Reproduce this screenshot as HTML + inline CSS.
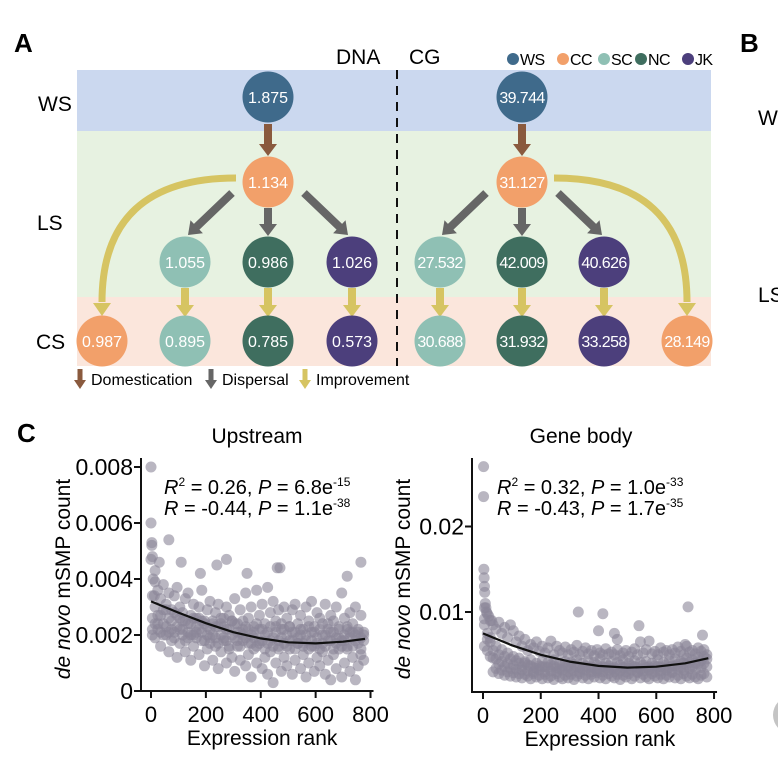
<!DOCTYPE html>
<html><head><meta charset="utf-8"><style>
html,body{margin:0;padding:0;background:#fff;}
svg{display:block;font-family:"Liberation Sans",Arial,sans-serif;}
</style></head><body>
<svg id="fig" width="778" height="777" viewBox="0 0 778 777">
<text x="14" y="52" font-size="26" font-weight="bold">A</text>
<text x="740" y="52" font-size="26" font-weight="bold">B</text>
<text x="758" y="125" font-size="21">WS</text>
<text x="758" y="302" font-size="21">LS</text>
<circle cx="792" cy="715" r="19" fill="#c4c4c4"/>
<rect x="77" y="70" width="634" height="61" fill="#cbd8ef"/>
<rect x="77" y="131" width="634" height="166" fill="#e7f2e1"/>
<rect x="77" y="297" width="634" height="69" fill="#fbe6dc"/>
<line x1="397" y1="70" x2="397" y2="366" stroke="#111" stroke-width="2" stroke-dasharray="9,7"/>
<text x="336" y="64" font-size="21">DNA</text>
<text x="409" y="64" font-size="21">CG</text>
<text x="38" y="111" font-size="21">WS</text>
<text x="37" y="230" font-size="21">LS</text>
<text x="36" y="349" font-size="21">CS</text>
<g id="legendTop" font-size="16" letter-spacing="-0.6"></g>
<g id="arrowsA"></g>
<g id="nodesA"></g>
<g id="legendBottom" font-size="16"></g>
<text x="17" y="442" font-size="26" font-weight="bold">C</text>
<g id="plotU"></g>
<g id="plotG"></g>
</svg>
<script>
const NS="http://www.w3.org/2000/svg";
function mk(tag,attrs,parent){const e=document.createElementNS(NS,tag);for(const k in attrs)e.setAttribute(k,attrs[k]);parent.appendChild(e);return e;}

const groupNames=["WS","CC","SC","NC","JK"];
const groupColors=["#3f6a8b","#f2a06a","#8fc0b4","#3f6e5f","#4c3f7c"];
const dnaValues=["1.875","1.134","1.055","0.986","1.026","0.987","0.895","0.785","0.573"];
const cgValues=["39.744","31.127","27.532","42.009","40.626","28.149","30.688","31.932","33.258"];

const legendTop=document.getElementById('legendTop');
const legX=[513,563,604,641,688];
groupNames.forEach((g,i)=>{
  const c=mk('circle',{cx:legX[i],cy:59,r:6,fill:groupColors[i]},legendTop);
  
  
  const t=mk('text',{x:legX[i]+7,y:65},legendTop);t.textContent=g;
  
  
});

const arrowsA=document.getElementById('arrowsA');
const BROWN="#8a5a3e",GRAY="#666666",YEL="#d6c462";
function arrow(x1,y1,x2,y2,col,name){
  const dx=x2-x1,dy=y2-y1,L=Math.hypot(dx,dy),ux=dx/L,uy=dy/L,px=-uy,py=ux;
  const hl=12,hw=9,sw=4;
  const bx=x2-ux*hl,by=y2-uy*hl;
  const pts=[[x1+px*sw,y1+py*sw],[bx+px*sw,by+py*sw],[bx+px*hw,by+py*hw],[x2,y2],[bx-px*hw,by-py*hw],[bx-px*sw,by-py*sw],[x1-px*sw,y1-py*sw]];
  const p=mk('polygon',{points:pts.map(q=>q.join(',')).join(' '),fill:col},arrowsA);
  
  
}
function curved(d,hx,hy,name){
  const p=mk('path',{d:d,fill:'none',stroke:YEL,'stroke-width':7},arrowsA);
  
  
  const h=mk('polygon',{points:`${hx-9},${hy-13} ${hx+9},${hy-13} ${hx},${hy}`,fill:YEL},arrowsA);
  
  
}
function side(cx,name){
  arrow(cx,124,cx,156,BROWN,name+'-domestication-arrow');
  arrow(cx-36,193,cx-80,235,GRAY,name+'-dispersal-left');
  arrow(cx,208,cx,236,GRAY,name+'-dispersal-mid');
  arrow(cx+36,193,cx+80,235,GRAY,name+'-dispersal-right');
}
side(268,'dna');side(522,'cg');
[185,268,352,440,522,604].forEach((x,i)=>arrow(x,288,x,317,YEL,'improvement-arrow-'+i));
curved('M236,178 Q102,178 102,302',102,316,'dna-cc-improvement-curve');
curved('M554,178 Q687,178 687,302',687,316,'cg-cc-improvement-curve');

const nodesA=document.getElementById('nodesA');
const nodeGroup=[0,1,2,3,4,1,2,3,4];
const dnaPos=[[268,97],[268,182],[185,262],[268,262],[352,262],[102,341],[185,341],[268,341],[352,341]];
const cgPos=[[522,97],[522,182],[440,262],[522,262],[604,262],[687,341],[440,341],[522,341],[604,341]];
function nodes(vals,pos,prefix){
  vals.forEach((v,i)=>{
    const c=mk('circle',{cx:pos[i][0],cy:pos[i][1],r:25.5,fill:groupColors[nodeGroup[i]]},nodesA);
    
    
    const t=mk('text',{x:pos[i][0],y:pos[i][1]+6,'text-anchor':'middle','font-size':v.length>5?16:16,'letter-spacing':v.length>5?-0.6:0,fill:'#fff'},nodesA);
    t.textContent=v;
    
    
  });
}
nodes(dnaValues,dnaPos,'dna');nodes(cgValues,cgPos,'cg');

const legendBottom=document.getElementById('legendBottom');
const arrowLegend=[["Domestication",BROWN,80],["Dispersal",GRAY,211],["Improvement",YEL,305]];
arrowLegend.forEach(([lab,col,x])=>{
  const p=mk('polygon',{points:`${x-2.5},369 ${x+2.5},369 ${x+2.5},380 ${x+6},380 ${x},389 ${x-6},380 ${x-2.5},380`,fill:col},legendBottom);
  
  
  const t=mk('text',{x:x+11,y:385},legendBottom);t.textContent=lab;
  
  
});

// ---- Panel C data (counts in units of 1e-3) ----
const rankGrid=[5,15,25,35,45,55,65,75,85,95,105,115,125,135,145,155,165,175,185,195,205,215,225,235,245,255,265,275,285,295,305,315,325,335,345,355,365,375,385,395,405,415,425,435,445,455,465,475,485,495,505,515,525,535,545,555,565,575,585,595,605,615,625,635,645,655,665,675,685,695,705,715,725,735,745,755,765,775];
const upHigh=[3.4,3.9,3.6,3.3,3.8,3.1,3.5,2.9,3.4,3.7,3.0,2.8,3.3,3.5,2.7,3.1,2.6,3.0,3.6,2.5,2.9,3.2,2.4,2.8,3.1,2.6,2.3,3.0,2.7,2.5,3.3,2.4,2.9,2.2,3.5,2.6,3.0,2.3,3.6,2.7,3.1,2.4,3.7,2.8,3.2,2.5,2.9,2.2,3.0,2.6,2.3,2.9,3.1,2.4,2.7,2.2,3.0,2.5,3.2,2.3,2.8,2.6,2.4,3.1,2.2,2.7,2.5,3.0,2.3,3.5,2.6,2.2,2.8,2.4,3.0,2.1,2.7,2.0];
const upMid=[2.6,3.0,2.2,2.7,2.4,2.9,2.1,2.5,2.8,2.3,2.6,2.2,2.5,2.1,2.4,2.0,2.3,2.6,2.1,2.4,2.0,2.2,2.5,1.9,2.3,2.0,2.6,1.8,2.2,2.0,2.4,1.8,2.1,2.5,1.9,2.2,1.7,2.1,2.4,1.8,2.2,2.0,1.7,2.3,1.9,2.1,1.8,2.4,1.7,2.0,2.3,1.8,2.1,1.9,2.2,1.7,2.0,2.3,1.8,2.1,1.9,2.2,1.7,2.0,2.4,1.8,2.1,1.9,2.2,1.8,2.0,2.3,1.9,2.1,1.8,2.2,1.9,2.1];
const upMid2=[2.0,2.4,2.7,2.1,2.9,2.0,2.6,2.2,1.9,2.7,2.2,2.5,1.8,2.4,2.0,2.6,1.9,2.2,2.5,1.8,2.3,1.7,2.0,2.3,1.7,2.4,1.8,2.2,1.6,2.5,1.9,2.1,1.6,2.0,2.3,1.7,2.0,1.9,1.6,2.2,1.8,1.5,2.1,1.8,1.6,2.3,1.5,1.9,2.2,1.6,1.8,2.1,1.5,1.7,2.0,1.6,1.8,1.5,2.1,1.6,1.7,1.5,2.0,1.6,1.8,2.1,1.5,1.7,1.9,1.6,1.8,1.5,2.1,1.6,2.0,1.7,1.5,1.8];
const upLow=[2.2,1.9,2.4,1.6,2.0,2.3,1.4,1.8,2.1,1.2,1.7,2.0,1.4,1.9,1.1,1.6,2.1,1.3,1.8,0.9,1.5,1.9,1.1,1.6,0.8,1.4,1.9,1.0,1.5,1.2,0.7,1.6,1.1,1.8,0.9,1.3,0.5,1.5,1.0,1.7,0.8,1.2,0.6,1.4,0.3,1.0,1.6,0.7,1.2,0.9,1.5,0.6,1.1,1.7,0.8,1.3,0.5,1.0,1.6,0.7,1.2,0.9,1.4,0.6,1.1,0.4,1.3,0.8,1.5,0.5,1.0,1.6,0.7,1.2,0.4,0.9,1.3,1.1];
const upOutRank=[0,0,3,3,5,0,65,275,460,470,765,715,350,240,180,110,30,15,8,12];
const upOutVal=[8.0,6.0,5.3,5.2,4.8,4.7,5.4,4.7,4.4,4.4,4.6,4.1,4.2,4.5,4.2,4.6,4.6,4.3,4.0,3.4];
const upFitRank=[0,100,200,300,400,500,600,700,780];
const upFitVal=[3.2,2.8,2.42,2.1,1.88,1.74,1.7,1.76,1.86];
const upTicksY=[0,2,4,6,8];
const upTickLabelsY=["0","0.002","0.004","0.006","0.008"];

const geneHigh=[10.5,9.8,9.0,8.5,8.0,8.8,7.5,8.2,7.0,8.5,7.8,6.5,7.2,6.0,6.8,5.5,6.2,5.8,6.5,5.4,6.0,5.2,5.8,6.6,5.0,6.0,5.5,5.2,5.9,5.0,5.6,5.3,6.1,5.0,5.4,5.8,5.1,5.5,4.9,5.6,5.2,5.0,5.7,5.1,5.3,5.0,5.6,4.9,5.2,5.5,4.8,5.3,5.7,5.0,6.5,5.2,5.6,6.6,5.1,5.4,5.0,5.8,5.3,5.5,5.0,5.6,5.2,5.9,5.4,5.0,6.0,5.3,5.5,5.1,5.8,5.4,5.6,5.0];
const geneMid=[8.5,7.5,6.5,5.5,4.5,5.0,4.2,4.8,4.0,4.5,3.8,4.3,4.0,3.6,4.2,3.8,4.4,3.5,4.0,3.7,4.3,3.6,4.1,3.8,4.4,3.5,4.0,3.7,4.2,3.6,4.1,3.9,4.4,3.5,4.0,3.7,4.3,3.6,4.1,3.8,4.5,3.6,4.0,3.7,4.2,3.5,4.1,3.8,4.4,3.6,4.0,3.7,4.3,3.5,4.1,3.8,4.2,3.6,4.0,3.7,4.4,3.6,4.1,3.8,4.3,3.7,4.5,3.9,4.2,4.0,4.6,4.1,4.4,4.0,4.7,4.3,4.8,4.5];
const geneMid2=[9.2,6.8,7.0,4.6,6.0,3.9,5.6,3.6,5.2,3.4,4.8,3.3,4.6,3.2,4.0,3.1,3.7,3.0,3.4,3.2,3.6,3.0,3.5,3.1,3.7,3.0,3.3,3.2,3.5,3.0,3.4,3.1,3.6,3.0,3.3,3.2,3.5,3.0,3.4,3.1,3.3,3.0,3.5,3.2,3.4,3.0,3.3,3.1,3.5,3.0,3.4,3.2,3.6,3.0,3.3,3.1,3.5,3.2,3.4,3.0,3.6,3.1,3.4,3.2,3.5,3.0,3.7,3.3,3.5,3.2,3.8,3.4,3.6,3.3,3.9,3.5,4.0,3.6];
const geneLow=[6.0,5.5,4.8,3.0,3.4,2.8,3.2,2.6,3.0,2.5,2.9,2.4,2.8,2.3,2.7,2.5,2.2,2.8,2.4,2.6,2.2,2.7,2.3,2.5,2.1,2.8,2.4,2.2,2.6,2.3,2.7,2.1,2.5,2.8,2.3,2.6,2.2,2.7,2.4,2.9,2.3,2.6,2.2,2.8,2.5,2.3,2.7,2.1,2.6,2.4,2.8,2.2,2.5,2.9,2.3,2.7,2.4,2.2,2.8,2.5,2.3,2.7,2.2,2.6,2.4,2.9,2.3,2.6,2.2,2.8,2.5,2.3,2.7,2.4,2.2,2.6,2.8,2.4];
const geneOutRank=[2,2,3,4,5,6,8,10,12,330,415,400,540,710,760,455,465,700,20,30];
const geneOutVal=[27.0,23.5,15.0,14.0,13.0,12.3,11.0,10.5,10.0,10.0,9.8,7.8,8.4,10.6,7.3,7.5,6.8,6.2,9.5,9.0];
const geneFitRank=[0,100,200,300,400,500,600,700,780];
const geneFitVal=[7.5,6.1,5.0,4.2,3.7,3.5,3.6,4.0,4.6];
const geneTicksY=[10,20];
const geneTickLabelsY=["0.01","0.02"];
const xTicks=[0,200,400,600,800];
const xTickLabels=["0","200","400","600","800"];

function plot(gid,cfg){
  const g=document.getElementById(gid);
  const X=v=>cfg.x0+v*cfg.xs, Y=v=>cfg.y0-v*cfg.ys;
  const t=mk('text',{x:cfg.titleX,y:443,'text-anchor':'middle','font-size':21},g);t.textContent=cfg.title;
  
  
  const pts=mk('g',{fill:'#8a8598','fill-opacity':0.6},g);
  
  
  const add=(r,v)=>{const c=mk('circle',{cx:X(r),cy:Y(v),r:5.5},pts);
    
    };
  cfg.series.forEach(s=>rankGrid.forEach((r,i)=>add(r,s[i])));
  cfg.outR.forEach((r,i)=>add(r,cfg.outV[i]));
  const d=cfg.fitR.map((r,i)=>(i?'L':'M')+X(r).toFixed(1)+','+Y(cfg.fitV[i]).toFixed(1)).join(' ');
  const f=mk('path',{d:d,fill:'none',stroke:'#111','stroke-width':2.2,'stroke-linejoin':'round'},g);
  
  
  const ax=mk('path',{d:`M${cfg.ax},458 L${cfg.ax},${cfg.axY} L${X(800)+3},${cfg.axY}`,fill:'none',stroke:'#111','stroke-width':2},g);
  
  
  cfg.yt.forEach((v,i)=>{
    const l=mk('line',{x1:cfg.ax-7,x2:cfg.ax,y1:Y(v),y2:Y(v),stroke:'#111','stroke-width':2},g);
    
    
    const tt=mk('text',{x:cfg.ax-8,y:Y(v)+8,'text-anchor':'end','font-size':23},g);tt.textContent=cfg.ytl[i];
    
    
  });
  xTicks.forEach((v,i)=>{
    const l=mk('line',{x1:X(v),x2:X(v),y1:cfg.axY,y2:cfg.axY+7,stroke:'#111','stroke-width':2},g);
    
    
    const tt=mk('text',{x:X(v),y:cfg.axY+31,'text-anchor':'middle','font-size':22},g);tt.textContent=xTickLabels[i];
    
    
  });
  const xt=mk('text',{x:X(405),y:cfg.axY+54,'text-anchor':'middle','font-size':21},g);xt.textContent='Expression rank';
  
  
  const yt=mk('text',{x:0,y:0,'text-anchor':'middle','font-size':21,transform:`translate(${cfg.ytX},579) rotate(-90)`},g);
  yt.innerHTML='<tspan font-style="italic">de novo</tspan> mSMP count';
  
  
  cfg.stats.forEach((s,i)=>{
    const st=mk('text',{x:cfg.sx,y:494+i*21,'font-size':20},g);
    st.innerHTML=s;
    
    
  });
}
const sup=(a,b)=>'';
plot('plotU',{x0:151,xs:0.2744,y0:691,ys:28,ax:141,axY:691,title:'Upstream',titleX:257,ytX:70,sx:164,
  series:[upHigh,upMid,upMid2,upLow],outR:upOutRank,outV:upOutVal,fitR:upFitRank,fitV:upFitVal,yt:upTicksY,ytl:upTickLabelsY,
  stats:['<tspan font-style="italic">R</tspan><tspan font-size="12" dy="-8">2</tspan><tspan dy="8"> = 0.26, </tspan><tspan font-style="italic">P</tspan> = 6.8e<tspan font-size="12" dy="-8">-15</tspan>',
         '<tspan font-style="italic">R</tspan> = -0.44, <tspan font-style="italic">P</tspan> = 1.1e<tspan font-size="12" dy="-8">-38</tspan>']});
plot('plotG',{x0:483,xs:0.2888,y0:697.5,ys:8.55,ax:472,axY:692,title:'Gene body',titleX:581,ytX:410,sx:497,
  series:[geneHigh,geneMid,geneMid2,geneLow],outR:geneOutRank,outV:geneOutVal,fitR:geneFitRank,fitV:geneFitVal,yt:geneTicksY,ytl:geneTickLabelsY,
  stats:['<tspan font-style="italic">R</tspan><tspan font-size="12" dy="-8">2</tspan><tspan dy="8"> = 0.32, </tspan><tspan font-style="italic">P</tspan> = 1.0e<tspan font-size="12" dy="-8">-33</tspan>',
         '<tspan font-style="italic">R</tspan> = -0.43, <tspan font-style="italic">P</tspan> = 1.7e<tspan font-size="12" dy="-8">-35</tspan>']});
</script>
</body></html>
